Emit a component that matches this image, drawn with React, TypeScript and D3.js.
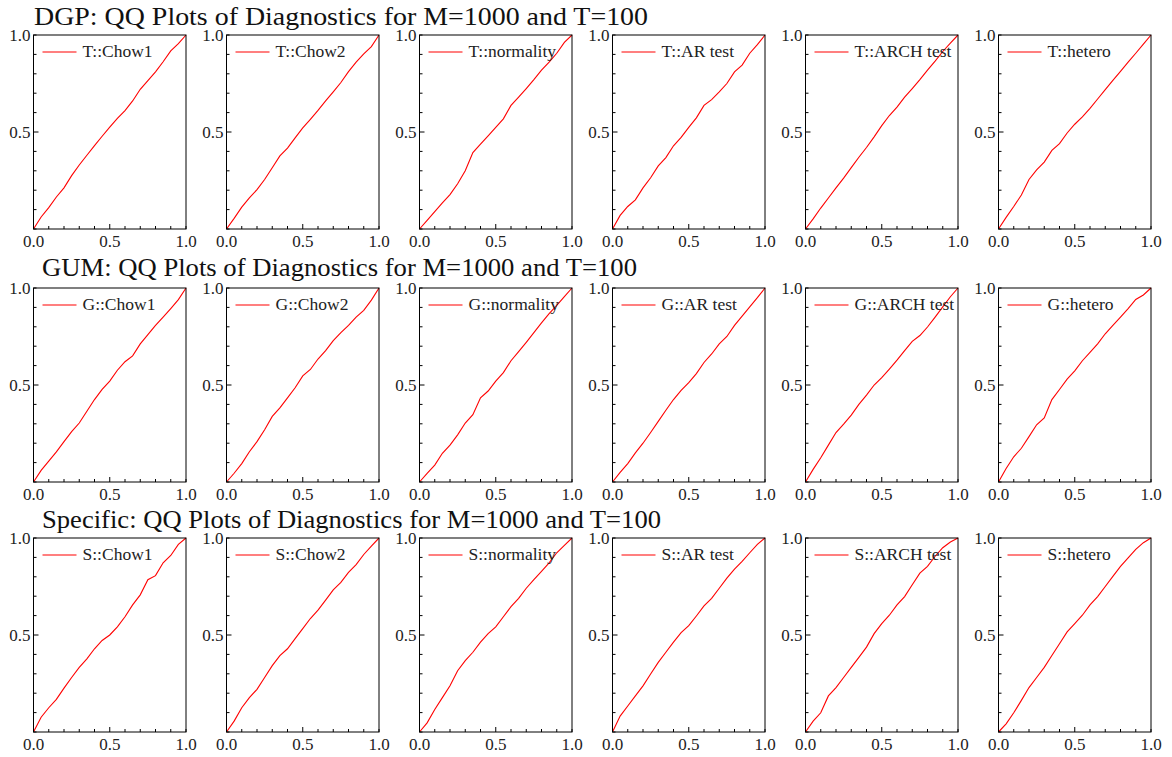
import React from "react";
import * as d3 from "d3";

// ---- data ----
const PROBS = [0, 0.05, 0.1, 0.15, 0.2, 0.25, 0.3, 0.35, 0.4, 0.45, 0.5, 0.55, 0.6, 0.65, 0.7, 0.75, 0.8, 0.85, 0.9, 0.95, 1];

const T_CHOW1 = [0, 0.062, 0.11, 0.165, 0.212, 0.275, 0.33, 0.38, 0.43, 0.478, 0.525, 0.57, 0.61, 0.66, 0.72, 0.765, 0.81, 0.862, 0.918, 0.955, 1];
const T_CHOW2 = [0, 0.055, 0.113, 0.16, 0.203, 0.255, 0.316, 0.377, 0.417, 0.47, 0.521, 0.565, 0.611, 0.66, 0.707, 0.755, 0.811, 0.86, 0.903, 0.94, 1];
const T_NORM = [0, 0.045, 0.09, 0.135, 0.177, 0.233, 0.3, 0.394, 0.4375, 0.48, 0.524, 0.568, 0.637, 0.68, 0.724, 0.77, 0.819, 0.86, 0.906, 0.962, 1];
const T_AR = [0, 0.07, 0.116, 0.15, 0.212, 0.264, 0.325, 0.368, 0.429, 0.472, 0.524, 0.573, 0.637, 0.667, 0.707, 0.75, 0.81, 0.845, 0.906, 0.95, 1];
const T_ARCH = [0, 0.052, 0.108, 0.16, 0.212, 0.262, 0.316, 0.37, 0.42, 0.475, 0.533, 0.585, 0.628, 0.68, 0.724, 0.77, 0.819, 0.865, 0.915, 0.958, 1];
const T_HET = [0, 0.06, 0.116, 0.175, 0.255, 0.305, 0.345, 0.405, 0.44, 0.495, 0.54, 0.578, 0.622, 0.67, 0.718, 0.766, 0.812, 0.86, 0.906, 0.953, 1];

const G_CHOW1 = [0, 0.06, 0.108, 0.155, 0.208, 0.26, 0.304, 0.365, 0.425, 0.477, 0.52, 0.576, 0.62, 0.65, 0.712, 0.76, 0.807, 0.85, 0.894, 0.94, 1];
const G_CHOW2 = [0, 0.045, 0.095, 0.156, 0.208, 0.269, 0.338, 0.382, 0.434, 0.486, 0.547, 0.58, 0.634, 0.677, 0.729, 0.77, 0.807, 0.85, 0.885, 0.9375, 1];
const G_NORM = [0, 0.045, 0.087, 0.148, 0.19, 0.243, 0.304, 0.347, 0.434, 0.469, 0.52, 0.564, 0.625, 0.672, 0.72, 0.77, 0.82, 0.868, 0.911, 0.955, 1];
const G_AR = [0, 0.05, 0.095, 0.15, 0.2, 0.255, 0.3125, 0.37, 0.425, 0.472, 0.512, 0.559, 0.616, 0.66, 0.712, 0.75, 0.807, 0.855, 0.903, 0.95, 1];
const G_ARCH = [0, 0.065, 0.125, 0.19, 0.255, 0.298, 0.345, 0.4, 0.448, 0.5, 0.538, 0.582, 0.628, 0.677, 0.725, 0.755, 0.799, 0.85, 0.903, 0.955, 1];
const G_HET = [0, 0.07, 0.13, 0.174, 0.234, 0.295, 0.33, 0.425, 0.477, 0.53, 0.573, 0.625, 0.668, 0.712, 0.764, 0.807, 0.85, 0.894, 0.941, 0.964, 1];

const S_CHOW1 = [0, 0.076, 0.125, 0.168, 0.226, 0.281, 0.333, 0.377, 0.429, 0.472, 0.5, 0.542, 0.594, 0.655, 0.707, 0.785, 0.806, 0.872, 0.91, 0.967, 1];
const S_CHOW2 = [0, 0.056, 0.125, 0.177, 0.22, 0.281, 0.342, 0.394, 0.429, 0.481, 0.533, 0.585, 0.628, 0.68, 0.733, 0.771, 0.823, 0.863, 0.915, 0.958, 1];
const S_NORM = [0, 0.047, 0.116, 0.177, 0.238, 0.316, 0.368, 0.411, 0.463, 0.507, 0.542, 0.594, 0.646, 0.689, 0.741, 0.785, 0.828, 0.872, 0.924, 0.962, 1];
const S_AR = [0, 0.082, 0.134, 0.186, 0.238, 0.299, 0.359, 0.411, 0.463, 0.512, 0.548, 0.598, 0.65, 0.689, 0.741, 0.793, 0.84, 0.88, 0.924, 0.967, 1];
const S_ARCH = [0, 0.056, 0.099, 0.186, 0.229, 0.281, 0.333, 0.385, 0.4375, 0.507, 0.559, 0.602, 0.655, 0.698, 0.759, 0.819, 0.854, 0.906, 0.95, 0.979, 1];
const S_HET = [0, 0.042, 0.099, 0.163, 0.229, 0.281, 0.333, 0.394, 0.455, 0.516, 0.559, 0.602, 0.655, 0.698, 0.75, 0.802, 0.854, 0.898, 0.941, 0.976, 1];

const ROW_TITLES = [
  "DGP: QQ Plots of Diagnostics for M=1000 and T=100",
  "GUM: QQ Plots of Diagnostics for M=1000 and T=100",
  "Specific: QQ Plots of Diagnostics for M=1000 and T=100",
];
const ROW_PREFIXES = ["T", "G", "S"];
const TESTS = ["Chow1", "Chow2", "normality", "AR test", "ARCH test", "hetero"];
const SERIES = [
  [T_CHOW1, T_CHOW2, T_NORM, T_AR, T_ARCH, T_HET],
  [G_CHOW1, G_CHOW2, G_NORM, G_AR, G_ARCH, G_HET],
  [S_CHOW1, S_CHOW2, S_NORM, S_AR, S_ARCH, S_HET],
];
const X_LABELS = [0, 0.5, 1];
const Y_LABELS = [0.5, 1];

// ---- layout ----
const W = 1172;
const H = 757;
const PANEL_W = 152.5;
const PANEL_H = 194;
const PANEL_LEFT0 = 33.5;
const PANEL_STEP = 193;
const ROW_TOPS = [35, 288, 538];
const TITLE_X = [34, 42, 42];
const TITLE_Y = [25, 276, 528];
const TITLE_LEN = [614, 595, 619];
const FONT = "'Liberation Serif', 'Times New Roman', serif";

function Panel({ values, label }: { values: number[]; label: string }) {
  const x = d3.scaleLinear().domain([0, 1]).range([0, PANEL_W]);
  const y = d3.scaleLinear().domain([0, 1]).range([PANEL_H, 0]);
  const pts = PROBS.map((p, i) => [p, values[i]] as [number, number]);
  const line = d3
    .line<[number, number]>()
    .x((d) => x(d[0]))
    .y((d) => y(d[1]));
  const minor = x.ticks(10);
  return (
    <g>
      <path d={line(pts) || ""} fill="none" stroke="#ff0000" strokeWidth={1.1} />
      <rect x={0} y={0} width={PANEL_W} height={PANEL_H} fill="none" stroke="#000" strokeWidth={1} />
      {minor.map((t, i) => {
        const major = Math.abs(t - 0.5) < 1e-9;
        const len = major ? 5 : 3;
        return (
          <g key={i}>
            <line x1={x(t)} x2={x(t)} y1={PANEL_H} y2={PANEL_H - len} stroke="#000" strokeWidth={1} />
            <line x1={0} x2={len} y1={y(t)} y2={y(t)} stroke="#000" strokeWidth={1} />
          </g>
        );
      })}
      {X_LABELS.map((t, i) => (
        <text key={"x" + i} x={x(t)} y={PANEL_H + 18} textAnchor="middle" fontSize={17} fontFamily={FONT} fill="#222">
          {t.toFixed(1)}
        </text>
      ))}
      {Y_LABELS.map((t, i) => (
        <text key={"y" + i} x={-3} y={y(t) + 6} textAnchor="end" fontSize={17} fontFamily={FONT} fill="#222">
          {t.toFixed(1)}
        </text>
      ))}
      <line x1={9} x2={43} y1={17} y2={17} stroke="#ff0000" strokeWidth={1.2} />
      <text x={49} y={22} fontSize={17.5} fontFamily={FONT} fill="#222">
        {label}
      </text>
    </g>
  );
}

export default function App() {
  return (
    <svg
      width={W}
      height={H}
      viewBox={`0 0 ${W} ${H}`}
      style={{ position: "absolute", left: 0, top: 0, background: "#fff" }}
    >
      <rect x={0} y={0} width={W} height={H} fill="#fff" />
      {ROW_TITLES.map((t, r) => (
        <text
          key={"t" + r}
          x={TITLE_X[r]}
          y={TITLE_Y[r]}
          fontSize={26}
          fontFamily={FONT}
          fill="#111"
          textLength={TITLE_LEN[r]}
          lengthAdjust="spacingAndGlyphs"
        >
          {t}
        </text>
      ))}
      {SERIES.map((row, r) =>
        row.map((vals, c) => (
          <g key={r + "-" + c} transform={`translate(${PANEL_LEFT0 + c * PANEL_STEP},${ROW_TOPS[r]})`}>
            <Panel values={vals} label={`${ROW_PREFIXES[r]}::${TESTS[c]}`} />
          </g>
        ))
      )}
    </svg>
  );
}
